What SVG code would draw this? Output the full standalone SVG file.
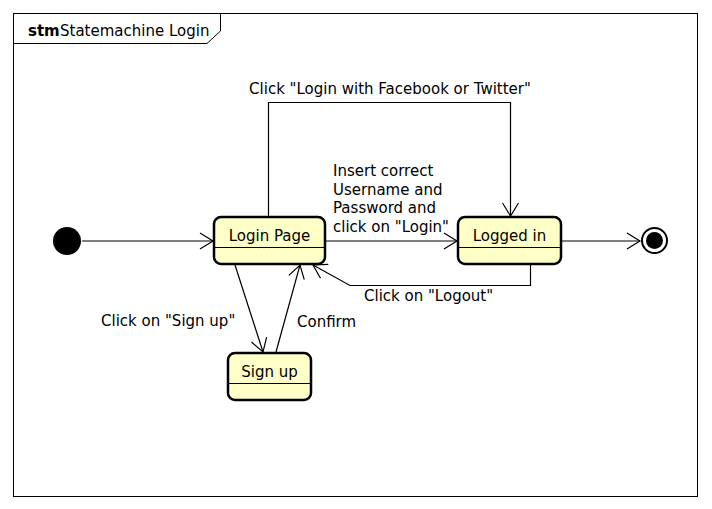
<svg xmlns="http://www.w3.org/2000/svg" width="712" height="509" viewBox="0 0 712 509">
<defs>
<style>
.t{font-family:"DejaVu Sans",sans-serif;font-size:15px;fill:#000}
.node{fill:#FFFFC8;stroke:#000;stroke-width:2.5}
.div{stroke:#000;stroke-width:1.2}
.e{fill:none;stroke:#000;stroke-width:1.2;marker-end:url(#arr)}
</style>
<marker id="arr" viewBox="-14 -9 16 18" refX="0" refY="0" markerWidth="16" markerHeight="18" markerUnits="userSpaceOnUse" orient="auto">
<path d="M-13,-8 L0,0 L-13,8" fill="none" stroke="#000" stroke-width="1.2"/>
</marker>
</defs>
<rect x="0" y="0" width="712" height="509" fill="#fff"/>
<g id="frame">
<rect x="13.5" y="13.5" width="684" height="483" fill="none" stroke="#000" stroke-width="1"/>
<path d="M13.5,43.5 L207,43.5 L220.5,31 L220.5,13.5" fill="none" stroke="#000" stroke-width="1"/>
<text x="28" y="36" class="t" font-weight="bold">stm</text>
<text x="60" y="36" class="t">Statemachine Login</text>
</g>
<g id="connectors">
<line x1="82" y1="241" x2="213" y2="241" class="e"/>
<line x1="325" y1="241" x2="457" y2="241" class="e"/>
<line x1="561" y1="241" x2="640" y2="241" class="e"/>
<polyline points="268.5,217 268.5,102.5 510.5,102.5 510.5,216" class="e"/>
<polyline points="530.5,265 530.5,285.5 350,285.5 313,265" class="e"/>
<line x1="235" y1="265" x2="263" y2="352" class="e"/>
<line x1="276" y1="352" x2="300" y2="265" class="e"/>
<text x="390" y="94" class="t" text-anchor="middle">Click "Login with Facebook or Twitter"</text>
<text class="t"><tspan x="333" y="176">Insert correct</tspan><tspan x="333" y="194.5">Username and</tspan><tspan x="333" y="213">Password and</tspan><tspan x="333" y="231.5">click on "Login"</tspan></text>
<text x="364" y="301" class="t">Click on "Logout"</text>
<text x="101" y="326" class="t">Click on "Sign up"</text>
<text x="297" y="327" class="t">Confirm</text>
</g>
<g id="initial"><circle cx="67" cy="241" r="14" fill="#000"/></g>
<g id="final"><circle cx="654.5" cy="240.5" r="12.5" fill="#fff" stroke="#000" stroke-width="2"/><circle cx="654.5" cy="240.5" r="8.5" fill="#000"/></g>
<g id="login-page">
<rect x="214" y="217" width="111" height="47" rx="7" class="node"/>
<line x1="215" y1="247.5" x2="324" y2="247.5" class="div"/>
<text x="269.5" y="241" class="t" text-anchor="middle">Login Page</text>
</g>
<g id="logged-in">
<rect x="458" y="217" width="103" height="47" rx="7" class="node"/>
<line x1="459" y1="247.5" x2="560" y2="247.5" class="div"/>
<text x="509.5" y="241" class="t" text-anchor="middle">Logged in</text>
</g>
<g id="sign-up">
<rect x="228" y="353" width="83" height="47" rx="7" class="node"/>
<line x1="229" y1="383.5" x2="310" y2="383.5" class="div"/>
<text x="269.5" y="377" class="t" text-anchor="middle">Sign up</text>
</g>
</svg>
